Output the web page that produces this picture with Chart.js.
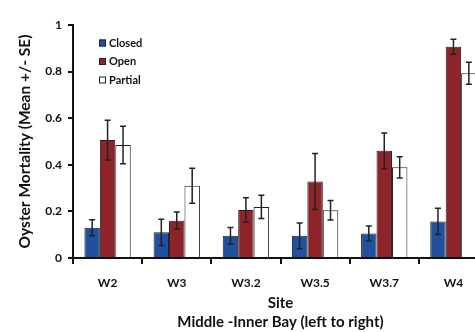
<!DOCTYPE html>
<html>
<head>
<meta charset="utf-8">
<script src="https://cdn.jsdelivr.net/npm/chart.js@4"></script>
<style>
  html, body { margin: 0; padding: 0; background: #fff; overflow: hidden; }
  #wrap { width: 475px; height: 332px; overflow: hidden; }
  canvas { display: block; }
</style>
</head>
<body>
<div id="wrap"><canvas id="mortChart" width="500" height="332"></canvas></div>
<script>
// Data
const sites = ["W2", "W3", "W3.2", "W3.5", "W3.7", "W4"];
const closed    = [0.13, 0.11, 0.095, 0.095, 0.105, 0.157];
const closedSE  = [0.034, 0.056, 0.036, 0.055, 0.032, 0.056];
const open      = [0.506, 0.16, 0.206, 0.328, 0.46, 0.907];
const openSE    = [0.085, 0.037, 0.053, 0.12, 0.077, 0.032];
const partial   = [0.485, 0.31, 0.219, 0.205, 0.389, 0.793];
const partialSE = [0.08, 0.075, 0.05, 0.042, 0.046, 0.047];
const yTicks = [0, 0.2, 0.4, 0.6, 0.8, 1];

const FONT = "Lato, 'Open Sans', sans-serif";
Chart.defaults.font.family = FONT;
Chart.defaults.color = "#111";

// Error bars (mean +/- SE)
const errorBars = {
    id: "errorBars",
    afterDatasetsDraw(chart) {
        const ctx = chart.ctx;
        const y = chart.scales.y;
        ctx.save();
        ctx.strokeStyle = "#222";
        ctx.lineWidth = 1.5;
        chart.data.datasets.forEach((ds, i) => {
            const meta = chart.getDatasetMeta(i);
            meta.data.forEach((bar, j) => {
                const v = ds.data[j], e = ds.errors[j];
                const yt = y.getPixelForValue(v + e);
                const yb = y.getPixelForValue(v - e);
                ctx.beginPath();
                ctx.moveTo(bar.x, yt); ctx.lineTo(bar.x, yb);
                ctx.moveTo(bar.x - 3, yt); ctx.lineTo(bar.x + 3, yt);
                ctx.moveTo(bar.x - 3, yb); ctx.lineTo(bar.x + 3, yb);
                ctx.stroke();
            });
        });
        ctx.restore();
    }
};

// Legend inside the plot, top left
const insideLegend = {
    id: "insideLegend",
    afterDraw(chart) {
        const ctx = chart.ctx;
        ctx.save();
        ctx.font = "bold 11px " + FONT;
        ctx.textBaseline = "middle";
        chart.data.datasets.forEach((ds, i) => {
            const cy = 43 + i * 18.5;
            ctx.fillStyle = ds.backgroundColor;
            ctx.fillRect(99, cy - 3.5, 7, 7);
            ctx.strokeStyle = "#222";
            ctx.lineWidth = 1;
            ctx.strokeRect(99.5, cy - 3, 6, 6);
            ctx.fillStyle = "#111";
            ctx.fillText(ds.label, 109, cy);
        });
        ctx.restore();
    }
};

const ctx = document.getElementById("mortChart").getContext("2d");
new Chart(ctx, {
    type: "bar",
    data: {
        labels: sites,
        datasets: [
            { label: "Closed",  data: closed,  errors: closedSE,  backgroundColor: "#2150A0" },
            { label: "Open",    data: open,    errors: openSE,    backgroundColor: "#8E232A" },
            { label: "Partial", data: partial, errors: partialSE, backgroundColor: "#FFFFFF" }
        ].map(d => Object.assign(d, {
            borderColor: "#222", borderWidth: 1,
            barPercentage: 1.0, categoryPercentage: 0.67
        }))
    },
    options: {
        responsive: false,
        animation: false,
        layout: { padding: { top: 25, right: 12, left: 0, bottom: 0 } },
        plugins: { legend: { display: false }, tooltip: { enabled: false } },
        scales: {
            x: {
                afterFit(s) { s.height = 74; },
                grid: { drawOnChartArea: false, color: "#111", lineWidth: 2, tickLength: 6, offset: true },
                border: { color: "#111", width: 2 },
                ticks: { padding: 12, font: { size: 12, weight: "bold" }, color: "#111" },
                title: {
                    display: true,
                    text: ["Site", "Middle -Inner Bay (left to right)"],
                    font: { size: 15, weight: "bold", lineHeight: 1.3 },
                    padding: { top: 0, bottom: 0 },
                    color: "#111"
                }
            },
            y: {
                min: 0, max: 1,
                afterFit(s) { s.width = 73; },
                afterBuildTicks(s) { s.ticks = yTicks.map(v => ({ value: v })); },
                grid: { drawOnChartArea: false, color: "#111", lineWidth: 2, tickLength: 5 },
                border: { color: "#111", width: 2 },
                ticks: {
                    padding: 6, font: { size: 12, weight: "bold" }, color: "#111",
                    callback: v => String(+v.toFixed(1))
                },
                title: {
                    display: true,
                    text: "Oyster Mortality (Mean +/- SE)",
                    font: { size: 15.5, weight: "bold", lineHeight: 1.2 },
                    padding: { top: 15.5, bottom: 0 },
                    color: "#111"
                }
            }
        }
    },
    plugins: [errorBars, insideLegend]
});
</script>
</body>
</html>
